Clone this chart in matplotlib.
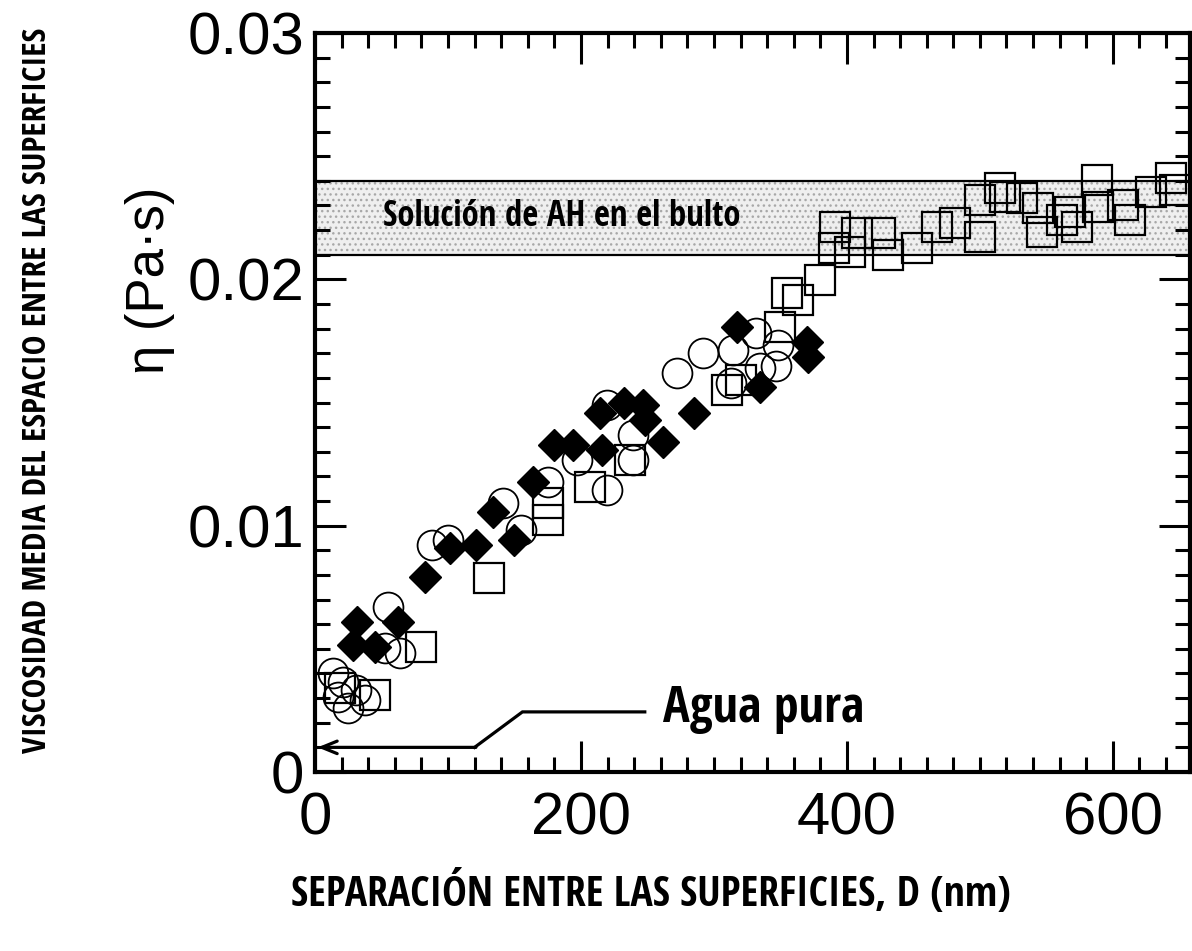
import matplotlib
matplotlib.use("Agg")
import matplotlib.pyplot as plt
from matplotlib.ticker import MultipleLocator, FuncFormatter

# ---- data: separation D (nm), mean viscosity (Pa s) ----
circ_x = [13.5, 21, 17, 31, 25, 37.6, 55, 64, 52.6, 88, 100, 141, 155, 175, 197,
          219.5, 219.5, 239, 239, 272, 292, 314, 313, 332, 348, 347, 335]
circ_y = [0.00402, 0.00365, 0.00305, 0.00333, 0.0026, 0.00292, 0.0067, 0.00483,
          0.00503, 0.00922, 0.00942, 0.01092, 0.00983, 0.01177, 0.01267, 0.01145,
          0.0149, 0.01368, 0.01267, 0.0162, 0.0170, 0.01713, 0.0158, 0.01782,
          0.01734, 0.01648, 0.0164]

sq_x = [19, 45, 80, 131, 175, 175, 207, 237, 310, 320, 350, 355, 363, 380, 390,
        391, 402, 407.5, 425, 431, 453, 468, 481, 500, 500, 515, 519, 532, 544,
        547, 562, 568, 588, 589, 573, 607.5, 613, 629, 644, 647]
sq_y = [0.00341, 0.00313, 0.00508, 0.00788, 0.01023, 0.01092, 0.01157, 0.01267,
        0.01551, 0.0159, 0.01807, 0.01945, 0.01916, 0.01998, 0.02127, 0.02213,
        0.02111, 0.02188, 0.02188, 0.02099, 0.02127, 0.02213, 0.02229, 0.02172,
        0.02322, 0.02371, 0.02335, 0.02331, 0.0229, 0.02192, 0.02241, 0.02274,
        0.02404, 0.02294, 0.02213, 0.02302, 0.02241, 0.02355, 0.02412, 0.02363]

dia_x = [28.6, 31.6, 45, 62.4, 82.7, 101.5, 121, 150, 134, 164, 180, 194, 216,
         214, 232, 247, 248, 262, 285, 317, 335, 370, 371]
dia_y = [0.00516, 0.00609, 0.00508, 0.00609, 0.00792, 0.00909, 0.00922, 0.00942,
         0.01056, 0.01177, 0.01328, 0.01328, 0.01307, 0.01458, 0.01498, 0.0149,
         0.01429, 0.0134, 0.01458, 0.01807, 0.01563, 0.01746, 0.01685]

bulk_lo, bulk_hi = 0.021, 0.024      # bulk HA solution band
water = 0.001                        # pure water viscosity

narrow = ['Open Sans Condensed', 'DejaVu Sans']
plt.rcParams['font.family'] = ['Liberation Sans', 'DejaVu Sans']

fig = plt.figure(figsize=(11.92, 9.51), dpi=100)
ax = fig.add_axes([315 / 1192, 179 / 951, 875 / 1192, 739 / 951])

# band
ax.fill_between([0, 700], bulk_lo, bulk_hi, facecolor='#efefef', hatch='...',
                edgecolor='#a8a8a8', linewidth=0, zorder=1)
ax.axhline(bulk_lo, color='black', lw=1.6, zorder=2)
ax.axhline(bulk_hi, color='black', lw=1.6, zorder=2)
ax.text(51, 0.02253, 'Solución de AH en el bulto', family=narrow, weight='bold',
        fontsize=25, va='center', ha='left', zorder=5)

# markers
ax.plot(circ_x, circ_y, 'o', ms=21.5, mfc='none', mec='black', mew=1.3, zorder=3)
ax.plot(sq_x, sq_y, 's', ms=22, mfc='none', mec='black', mew=1.6, zorder=3)
ax.plot(dia_x, dia_y, 'D', ms=16, mfc='black', mec='black', mew=1, zorder=4)

# pure water pointer
ax.plot([120, 156, 248], [water, 0.00244, 0.00244], color='black', lw=2.3,
        solid_joinstyle='miter', zorder=5)
ax.annotate('', xy=(2, water), xytext=(121, water),
            arrowprops=dict(arrowstyle='->,head_length=1.1,head_width=0.45',
                            color='black', lw=2.3, shrinkA=0, shrinkB=0), zorder=5)
ax.text(262, 0.00203, 'Agua pura', family=narrow, weight='bold', fontsize=36,
        va='baseline', ha='left', zorder=5)

ax.set_xlim(0, 658)
ax.set_ylim(0, 0.03)
ax.xaxis.set_major_locator(MultipleLocator(200))
ax.xaxis.set_minor_locator(MultipleLocator(20))
ax.yaxis.set_major_locator(MultipleLocator(0.01))
ax.yaxis.set_minor_locator(MultipleLocator(0.001))
ax.yaxis.set_major_formatter(FuncFormatter(lambda v, p: '0' if abs(v) < 1e-9 else '%.2f' % v))
ax.xaxis.set_major_formatter(FuncFormatter(lambda v, p: '%d' % v))

ax.tick_params(which='both', direction='in', top=True, right=True, width=2.2,
               labelsize=43)
ax.tick_params(which='major', length=22)
ax.tick_params(which='minor', length=11)
ax.tick_params(axis='x', which='major', pad=14)
ax.tick_params(axis='y', which='major', pad=8)
for sp in ax.spines.values():
    sp.set_linewidth(3)

fig.text(150 / 1192, 1 - 280 / 951, 'η (Pa·s)', fontsize=38,
         rotation=90, ha='center', va='center')
fig.text(38 / 1192, 1 - 390 / 951, 'VISCOSIDAD MEDIA DEL ESPACIO ENTRE LAS SUPERFICIES',
         family=narrow, weight='bold', fontsize=24, rotation=90, ha='center', va='center')
fig.text(651 / 1192, 1 - 893 / 951, 'SEPARACIÓN ENTRE LAS SUPERFICIES, D (nm)',
         family=narrow, weight='bold', fontsize=30, ha='center', va='center')

fig.savefig('out.png', dpi=100)
